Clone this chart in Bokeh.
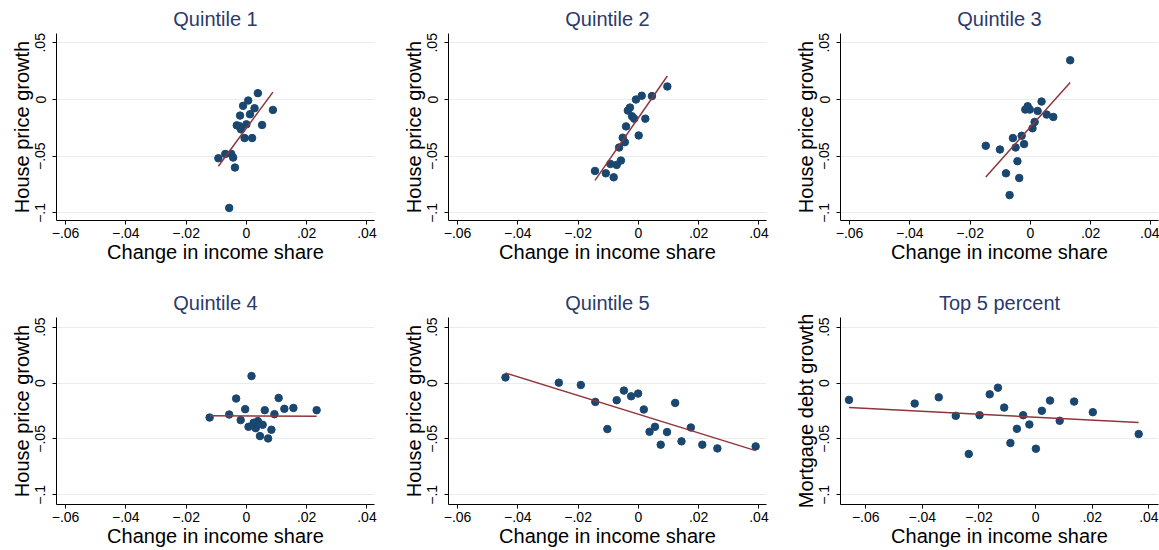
from bokeh.plotting import figure
from bokeh.layouts import column, row
from bokeh.embed import file_html
from bokeh.resources import INLINE
from bokeh.models import FixedTicker, Range1d

# ---------------- data ----------------
titles = ["Quintile 1", "Quintile 2", "Quintile 3", "Quintile 4", "Quintile 5", "Top 5 percent"]
ylabels = ["House price growth"] * 5 + ["Mortgage debt growth"]
xlabel = "Change in income share"

q1_x = [0.0038, 0.0006, -0.0011, 0.0027, 0.0088, -0.0021, 0.0012, -0.0032, -0.0024, 0.0000,
        0.0052, -0.0018, -0.0006, 0.0019, -0.0070, -0.0050, -0.0093, -0.0044, -0.0038, -0.0057]
q1_y = [0.0056, -0.0009, -0.0056, -0.0077, -0.0092, -0.0142, -0.0130, -0.0228, -0.0234, -0.0219,
        -0.0225, -0.0263, -0.0340, -0.0340, -0.0480, -0.0480, -0.0518, -0.0512, -0.0600, -0.0956]
q1_fit = [-0.0588, 0.0065]

q2_x = [0.0096, 0.0011, 0.0045, -0.0008, -0.0028, -0.0035, -0.0021, -0.0014, 0.0023, -0.0041,
        0.0001, -0.0052, -0.0045, -0.0064, -0.0058, -0.0072, -0.0093, -0.0144, -0.0108, -0.0082]
q2_y = [0.0115, 0.0033, 0.0030, 0.0000, -0.0071, -0.0098, -0.0148, -0.0169, -0.0169, -0.0237,
        -0.0317, -0.0337, -0.0376, -0.0423, -0.0538, -0.0577, -0.0568, -0.0630, -0.0651, -0.0686]
q2_fit = [-0.0713, 0.0207]

q3_x = [0.0132, 0.0037, -0.0009, -0.0017, -0.0002, 0.0024, 0.0054, 0.0076, 0.0014, 0.0007,
        -0.0029, -0.0058, -0.0049, -0.0021, -0.0148, -0.0101, -0.0043, -0.0081, -0.0037, -0.0069]
q3_y = [0.0346, -0.0018, -0.0059, -0.0089, -0.0089, -0.0101, -0.0133, -0.0154, -0.0198, -0.0254,
        -0.0320, -0.0340, -0.0423, -0.0393, -0.0408, -0.0441, -0.0544, -0.0651, -0.0692, -0.0843]
q3_fit = [-0.0683, 0.0151]

q4_x = [0.0017, -0.0034, 0.0107, 0.0156, 0.0126, 0.0233, -0.0004, 0.0061, -0.0057, 0.0093,
        -0.0122, -0.0019, 0.0038, 0.0024, 0.0054, 0.0007, 0.0031, 0.0083, 0.0045, 0.0072]
q4_y = [0.0062, -0.0139, -0.0134, -0.0223, -0.0231, -0.0243, -0.0234, -0.0243, -0.0282, -0.0279,
        -0.0309, -0.0332, -0.0341, -0.0356, -0.0374, -0.0392, -0.0404, -0.0418, -0.0475, -0.0496]
q4_fit = [-0.0294, -0.0297]

q5_x = [-0.0441, -0.0264, -0.0191, -0.0048, -0.0001, -0.0024, -0.0072, -0.0143, 0.0122, 0.0018,
        -0.0103, 0.0055, 0.0174, 0.0037, 0.0095, 0.0143, 0.0074, 0.0212, 0.0262, 0.0389]
q5_y = [0.0050, 0.0003, -0.0018, -0.0068, -0.0095, -0.0119, -0.0154, -0.0169, -0.0178, -0.0237,
        -0.0412, -0.0392, -0.0398, -0.0436, -0.0439, -0.0522, -0.0552, -0.0552, -0.0585, -0.0567]
q5_fit = [0.0089, -0.0605]

t5_x = [-0.0659, -0.0427, -0.0342, -0.0282, -0.0236, -0.0198, -0.0162, -0.0133, -0.0111, -0.0089,
        -0.0066, -0.0044, -0.0022, 0.0001, 0.0022, 0.0051, 0.0085, 0.0136, 0.0202, 0.0364]
t5_y = [-0.0151, -0.0184, -0.0128, -0.0294, -0.0635, -0.0288, -0.0101, -0.0042, -0.0220, -0.0537,
        -0.0410, -0.0288, -0.0371, -0.0588, -0.0249, -0.0157, -0.0338, -0.0166, -0.0261, -0.0457]
t5_fit = [-0.0220, -0.0353]

xticks = [-0.06, -0.04, -0.02, 0.0, 0.02, 0.04]
xtick_labels = ["\u2212.06", "\u2212.04", "\u2212.02", "0", ".02", ".04"]
yticks = [-0.1, -0.05, 0.0, 0.05]
ytick_labels = ["\u2212.1", "\u2212.05", "0", ".05"]

panels = [(q1_x, q1_y, q1_fit), (q2_x, q2_y, q2_fit), (q3_x, q3_y, q3_fit),
          (q4_x, q4_y, q4_fit), (q5_x, q5_y, q5_fit), (t5_x, t5_y, t5_fit)]

# ---------------- styling ----------------
FONT = "Liberation Sans"
NAVY = "#1a476f"
MAROON = "#90353b"
GRID = "#e6eef0"
TITLE_C = "#2a3a6b"

FRAME_W = 318
FRAME_H = 187
col_left = [56, 56, 56]
col_right = [18, 18, 1]
row_top = [33, 37]
row_bottom = [60, 46]
x_ranges = [(-0.063, 0.0425)] * 5 + [(-0.0689, 0.0434)]
y_ranges = [(-0.1067, 0.0582), (-0.1087, 0.0586)]

figs = []
for i, (xs, ys, fit) in enumerate(panels):
    r, c = divmod(i, 3)
    p = figure(frame_width=FRAME_W, frame_height=FRAME_H,
               output_backend="svg", toolbar_location=None,
               x_range=Range1d(*x_ranges[i]), y_range=Range1d(*y_ranges[r]),
               min_border_left=col_left[c], min_border_right=col_right[c],
               min_border_top=row_top[r], min_border_bottom=row_bottom[r],
               title=titles[i])
    p.outline_line_color = None
    p.background_fill_color = "white"
    p.border_fill_color = "white"

    p.title.align = "center"
    p.title.text_font = FONT
    p.title.text_font_size = "20px"
    p.title.text_font_style = "normal"
    p.title.text_color = TITLE_C
    p.title.standoff = 8
    p.title.offset = 0

    p.xgrid.visible = False
    p.ygrid.ticker = FixedTicker(ticks=yticks)
    p.ygrid.grid_line_color = GRID
    p.ygrid.grid_line_width = 1

    for ax in (p.xaxis[0], p.yaxis[0]):
        ax.axis_line_color = "black"
        ax.axis_line_width = 1
        ax.major_tick_line_color = "black"
        ax.major_tick_out = 4
        ax.major_tick_in = 0
        ax.minor_tick_line_color = None
        ax.major_label_text_font = FONT
        ax.major_label_text_font_size = "14px"
        ax.major_label_text_color = "black"
        ax.axis_label_text_font = FONT
        ax.axis_label_text_font_size = "20px"
        ax.axis_label_text_font_style = "normal"
        ax.axis_label_text_color = "black"
        ax.axis_label_standoff = 0

    p.xaxis.major_label_standoff = 3
    p.yaxis.major_label_standoff = 7
    p.xaxis.ticker = FixedTicker(ticks=xticks)
    p.xaxis.major_label_overrides = dict(zip(xticks, xtick_labels))
    p.xaxis.axis_label = xlabel
    p.yaxis.ticker = FixedTicker(ticks=yticks)
    p.yaxis.major_label_overrides = dict(zip(yticks, ytick_labels))
    p.yaxis.major_label_orientation = "vertical"
    p.yaxis.axis_label = ylabels[i]

    p.scatter(xs, ys, size=7.5, color=NAVY, line_color=NAVY)
    p.line([min(xs), max(xs)], fit, line_color=MAROON, line_width=1.5)
    figs.append(p)

layout = column(row(*figs[:3]), row(*figs[3:]))
open("out.html", "w").write(file_html(layout, INLINE))
